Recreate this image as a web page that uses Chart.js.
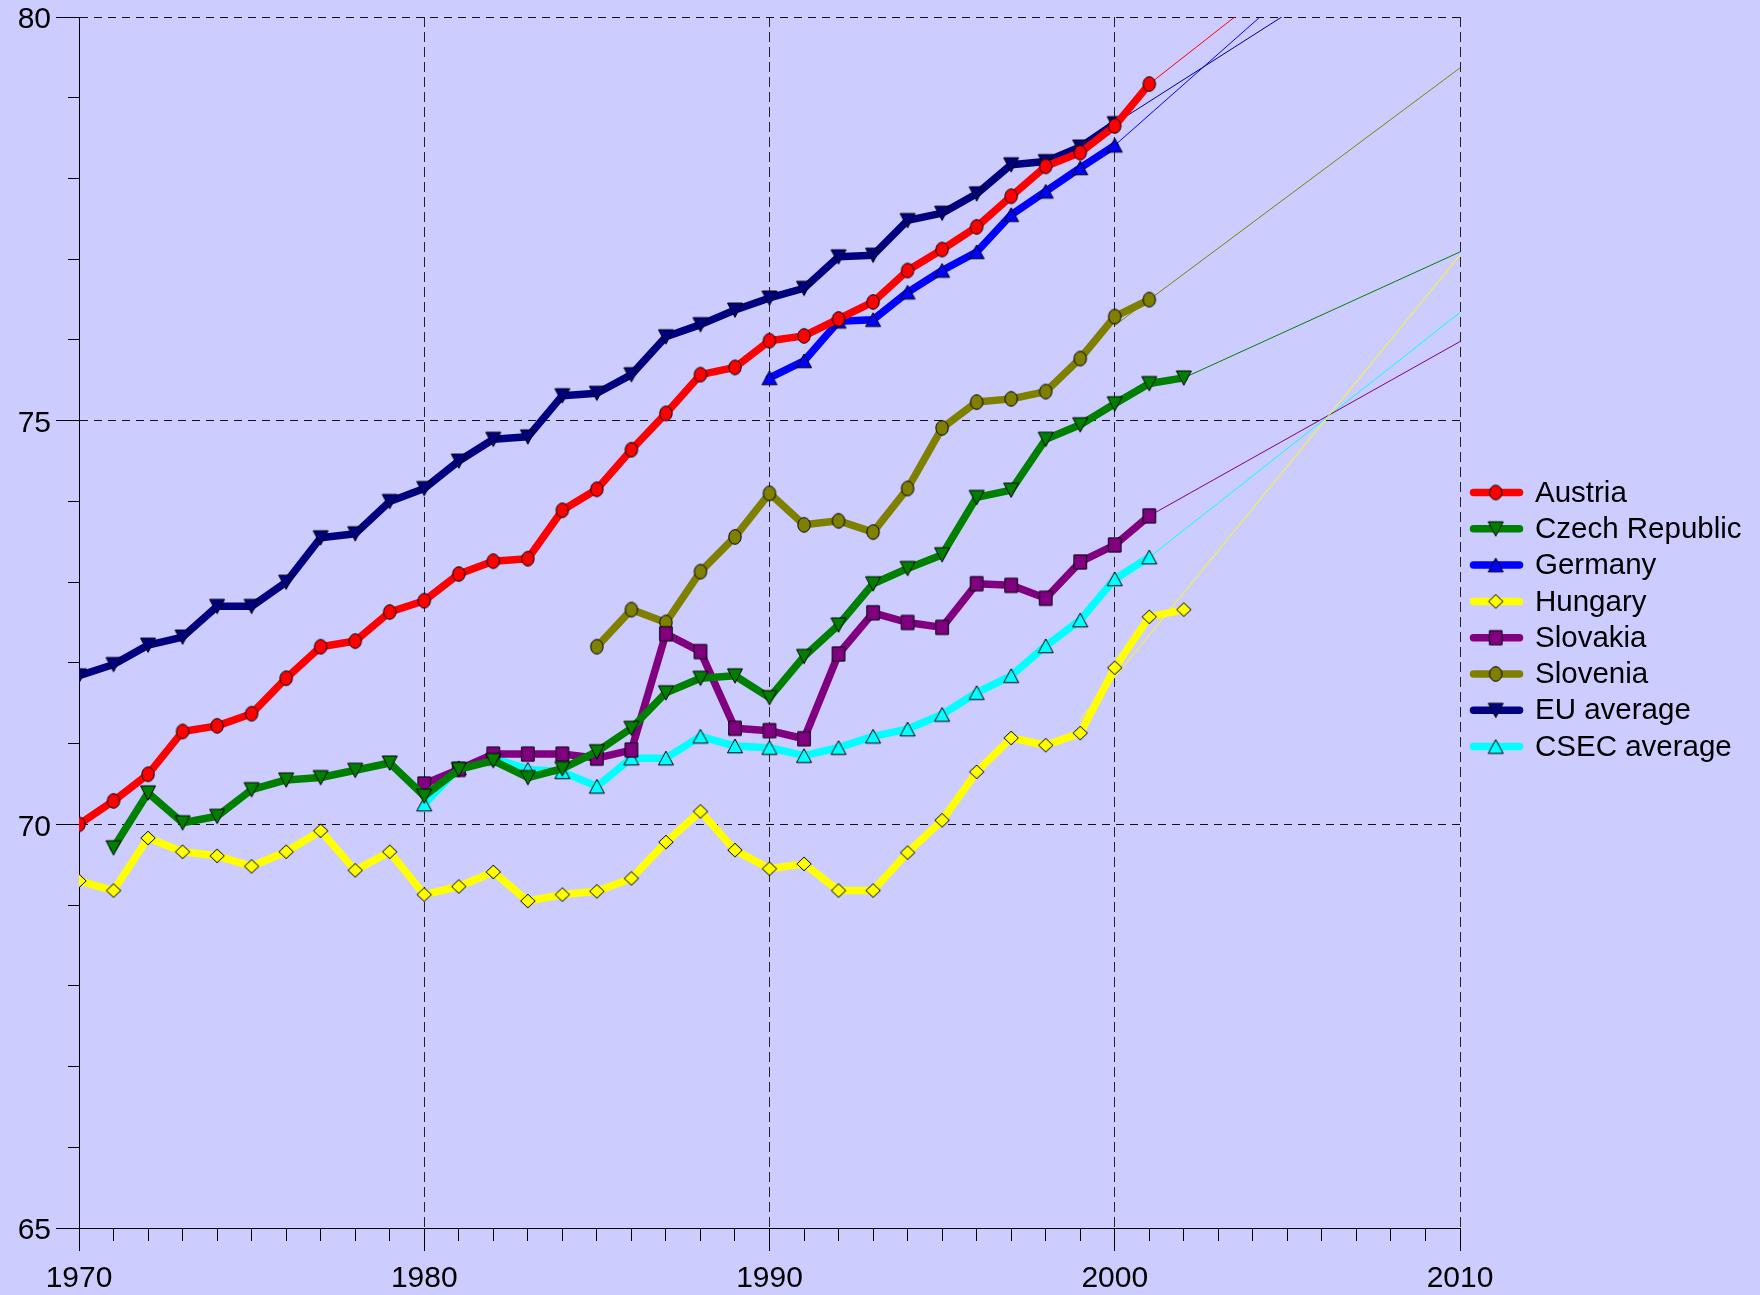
<!DOCTYPE html>
<html>
<head>
<meta charset="utf-8">
<title>Life expectancy at birth</title>
<script src="https://cdn.jsdelivr.net/npm/chart.js@4.4.1/dist/chart.umd.min.js"></script>
<style>
  html, body { margin: 0; padding: 0; background: #ccccff; }
  #wrap { width: 1760px; height: 1295px; }
  canvas { display: block; background: #ccccff; }
</style>
</head>
<body>
<div id="wrap"><canvas id="lifeChart" width="1760" height="1295"></canvas></div>
<script>
// years shared by all series (null = no value)
const years = [1970, 1971, 1972, 1973, 1974, 1975, 1976, 1977, 1978, 1979,
               1980, 1981, 1982, 1983, 1984, 1985, 1986, 1987, 1988, 1989,
               1990, 1991, 1992, 1993, 1994, 1995, 1996, 1997, 1998, 1999,
               2000, 2001, 2002];

const austria = [70.00, 70.29, 70.62, 71.15, 71.22, 71.37, 71.81, 72.20, 72.27, 72.63,
                 72.77, 73.10, 73.26, 73.29, 73.89, 74.15, 74.64, 75.09, 75.57, 75.66,
                 75.99, 76.05, 76.26, 76.47, 76.86, 77.12, 77.40, 77.78, 78.15, 78.32,
                 78.65, 79.17, null];
const czech = [null, 69.71, 70.39, 70.02, 70.10, 70.43, 70.55, 70.58, 70.67, 70.76,
               70.35, 70.68, 70.79, 70.58, 70.69, 70.90, 71.19, 71.63, 71.81, 71.84,
               71.57, 72.08, 72.47, 72.98, 73.17, 73.34, 74.05, 74.14, 74.77, 74.95,
               75.21, 75.46, 75.53];
const germany = [null, null, null, null, null, null, null, null, null, null,
                 null, null, null, null, null, null, null, null, null, null,
                 75.53, 75.74, 76.23, 76.25, 76.59, 76.86, 77.09, 77.55, 77.84, 78.13,
                 78.41, null, null];
const hungary = [69.30, 69.18, 69.83, 69.66, 69.61, 69.48, 69.66, 69.92, 69.43, 69.66,
                 69.13, 69.23, 69.41, 69.05, 69.13, 69.17, 69.33, 69.78, 70.16, 69.68,
                 69.45, 69.51, 69.18, 69.18, 69.65, 70.05, 70.65, 71.07, 70.98, 71.13,
                 71.94, 72.57, 72.66];
const slovakia = [null, null, null, null, null, null, null, null, null, null,
                  70.50, 70.68, 70.87, 70.87, 70.87, 70.82, 70.92, 72.36, 72.14, 71.19,
                  71.16, 71.06, 72.11, 72.62, 72.50, 72.44, 72.98, 72.96, 72.80, 73.25,
                  73.46, 73.82, null];
const slovenia = [null, null, null, null, null, null, null, null, null, null,
                  null, null, null, null, null, 72.20, 72.66, 72.50, 73.13, 73.56,
                  74.10, 73.71, 73.76, 73.62, 74.16, 74.91, 75.23, 75.27, 75.36, 75.77,
                  76.29, 76.50, null];
const euAverage = [71.84, 71.98, 72.22, 72.32, 72.70, 72.70, 73.00, 73.55, 73.60, 74.00,
                   74.16, 74.50, 74.77, 74.80, 75.31, 75.34, 75.57, 76.04, 76.19, 76.37,
                   76.52, 76.64, 77.03, 77.05, 77.48, 77.57, 77.81, 78.17, 78.21, 78.39,
                   78.68, null, null];
const csecAverage = [null, null, null, null, null, null, null, null, null, null,
                     70.25, 70.70, 70.82, 70.68, 70.65, 70.47, 70.82, 70.82, 71.09, 70.97,
                     70.95, 70.85, 70.95, 71.09, 71.18, 71.36, 71.63, 71.84, 72.21, 72.53,
                     73.04, 73.31, null];

const seriesNames = ['Austria', 'Czech Republic', 'Germany', 'Hungary',
                     'Slovakia', 'Slovenia', 'EU average', 'CSEC average'];
const seriesValues = [austria, czech, germany, hungary, slovakia, slovenia, euAverage, csecAverage];

// thin projection lines towards 2010
const trendFromYear  = [2001, 2002, 2000, 1999, 2001, 2000, 2000, 2000];
const trendFromValue = [79.17, 75.53, 78.41, 71.30, 73.82, 76.18, 78.68, 72.97];
const trendTo2010    = [82.19, 77.09, 82.19, 77.05, 75.98, 79.37, 81.41, 76.34];

const yTickLabels = [65, 70, 75, 80];
const xTickLabels = [1970, 1980, 1990, 2000, 2010];

const colors  = ['#ff0000', '#008000', '#0000ff', '#ffff00', '#800080', '#808000', '#000080', '#00ffff'];
const shapes  = ['circle', 'down', 'up', 'diamond', 'square', 'circle', 'down', 'up'];
const FONT = '"Liberation Sans", Arial, Helvetica, sans-serif';

// marker bitmaps (slightly taller than wide, like the original)
function makeMarker(shape, fill) {
    const c = document.createElement('canvas');
    c.width = 18;
    c.height = 18;
    const g = c.getContext('2d');
    const cx = 9, cy = 9;
    g.fillStyle = fill;
    g.strokeStyle = '#000';
    g.lineWidth = 1;
    g.beginPath();
    if (shape === 'circle') {
        g.ellipse(cx, cy, 6.2, 7.3, 0, 0, Math.PI * 2);
    } else if (shape === 'up') {
        g.moveTo(cx, cy - 7);
        g.lineTo(cx + 7.5, cy + 6.8);
        g.lineTo(cx - 7.5, cy + 6.8);
        g.closePath();
    } else if (shape === 'down') {
        g.moveTo(cx - 7.5, cy - 7);
        g.lineTo(cx + 7.5, cy - 7);
        g.lineTo(cx, cy + 7.3);
        g.closePath();
    } else if (shape === 'square') {
        g.rect(cx - 6.3, cy - 7.1, 12.6, 14.2);
    } else {
        g.moveTo(cx, cy - 6.8);
        g.lineTo(cx + 7.2, cy);
        g.lineTo(cx, cy + 6.8);
        g.lineTo(cx - 7.2, cy);
        g.closePath();
    }
    g.fill();
    g.stroke();
    return c;
}
const markers = shapes.map((s, i) => makeMarker(s, colors[i]));

function toPoints(values) {
    const pts = [];
    values.forEach((v, i) => {
        if (v !== null) pts.push({ x: years[i], y: v });
    });
    return pts;
}

const mainSets = seriesNames.map((name, i) => ({
    label: name,
    data: toPoints(seriesValues[i]),
    borderColor: colors[i],
    backgroundColor: colors[i],
    borderWidth: 7.5,
    borderJoinStyle: 'round',
    borderCapStyle: 'round',
    pointStyle: markers[i],
    pointRadius: 7,
    pointHoverRadius: 7,
    tension: 0
}));

const trendSets = seriesNames.map((name, i) => ({
    label: name + ' trend',
    data: [{ x: trendFromYear[i], y: trendFromValue[i] }, { x: 2010, y: trendTo2010[i] }],
    borderColor: colors[i],
    borderWidth: 1,
    pointRadius: 0,
    tension: 0
}));

// legend at the right: thick line + marker + name
const sideLegend = {
    id: 'sideLegend',
    afterDraw(chart) {
        const ctx = chart.ctx;
        const x0 = chart.chartArea.right + 10;
        const y0 = chart.chartArea.top + 475.5;
        ctx.save();
        ctx.font = '29.5px ' + FONT;
        ctx.textBaseline = 'middle';
        seriesNames.forEach((name, i) => {
            const y = y0 + i * 36.3;
            ctx.strokeStyle = colors[i];
            ctx.lineWidth = 7.5;
            ctx.lineCap = 'round';
            ctx.beginPath();
            ctx.moveTo(x0 + 3.5, y);
            ctx.lineTo(x0 + 49.5, y);
            ctx.stroke();
            ctx.drawImage(markers[i], x0 + 25.7 - 9, y - 9);
            ctx.fillStyle = '#000';
            ctx.fillText(name, x0 + 65, y + 1);
        });
        ctx.restore();
    }
};

const ctx = document.getElementById('lifeChart').getContext('2d');
new Chart(ctx, {
    type: 'line',
    data: { datasets: mainSets.concat(trendSets) },
    plugins: [sideLegend],
    options: {
        responsive: false,
        animation: false,
        devicePixelRatio: 1,
        layout: { padding: { left: 0, right: 300, top: 17, bottom: 0 } },
        plugins: {
            legend: { display: false },
            tooltip: { enabled: false },
            title: { display: false }
        },
        scales: {
            x: {
                type: 'linear',
                min: 1970,
                max: 2010,
                afterFit: (scale) => { scale.height = 67; },
                ticks: {
                    stepSize: 1,
                    autoSkip: false,
                    maxRotation: 0,
                    minRotation: 0,
                    padding: 10,
                    color: '#000',
                    font: { family: FONT, size: 30 },
                    callback: (v) => xTickLabels.includes(v) ? String(v) : ''
                },
                grid: {
                    color: (c) => c.tick && c.tick.value % 10 === 0 ? '#222' : 'rgba(0,0,0,0)',
                    lineWidth: 1,
                    tickLength: 23,
                    tickColor: '#000',
                    tickWidth: 1,
                    tickBorderDash: (c) => c.tick && c.tick.value % 10 === 0 ? [] : [12, 100]
                },
                border: { display: true, color: '#000', width: 1, dash: [10, 5] }
            },
            y: {
                type: 'linear',
                min: 65,
                max: 80,
                afterFit: (scale) => {
                    scale.width = 79;
                    scale.paddingTop = 0;
                    scale.paddingBottom = 0;
                },
                ticks: {
                    stepSize: 1,
                    autoSkip: false,
                    padding: 5,
                    labelOffset: 3,
                    color: '#000',
                    font: { family: FONT, size: 30 },
                    callback: (v) => yTickLabels.includes(v) ? String(v) : ''
                },
                grid: {
                    color: (c) => c.tick && c.tick.value % 5 === 0 ? '#111' : 'rgba(0,0,0,0)',
                    lineWidth: 1,
                    tickLength: 23,
                    tickColor: '#000',
                    tickWidth: 1,
                    tickBorderDash: (c) => c.tick && c.tick.value % 5 === 0 ? [] : [0, 12, 11, 100]
                },
                border: { display: true, color: '#000', width: 1, dash: [8, 6] }
            }
        }
    }
});
</script>
</body>
</html>
